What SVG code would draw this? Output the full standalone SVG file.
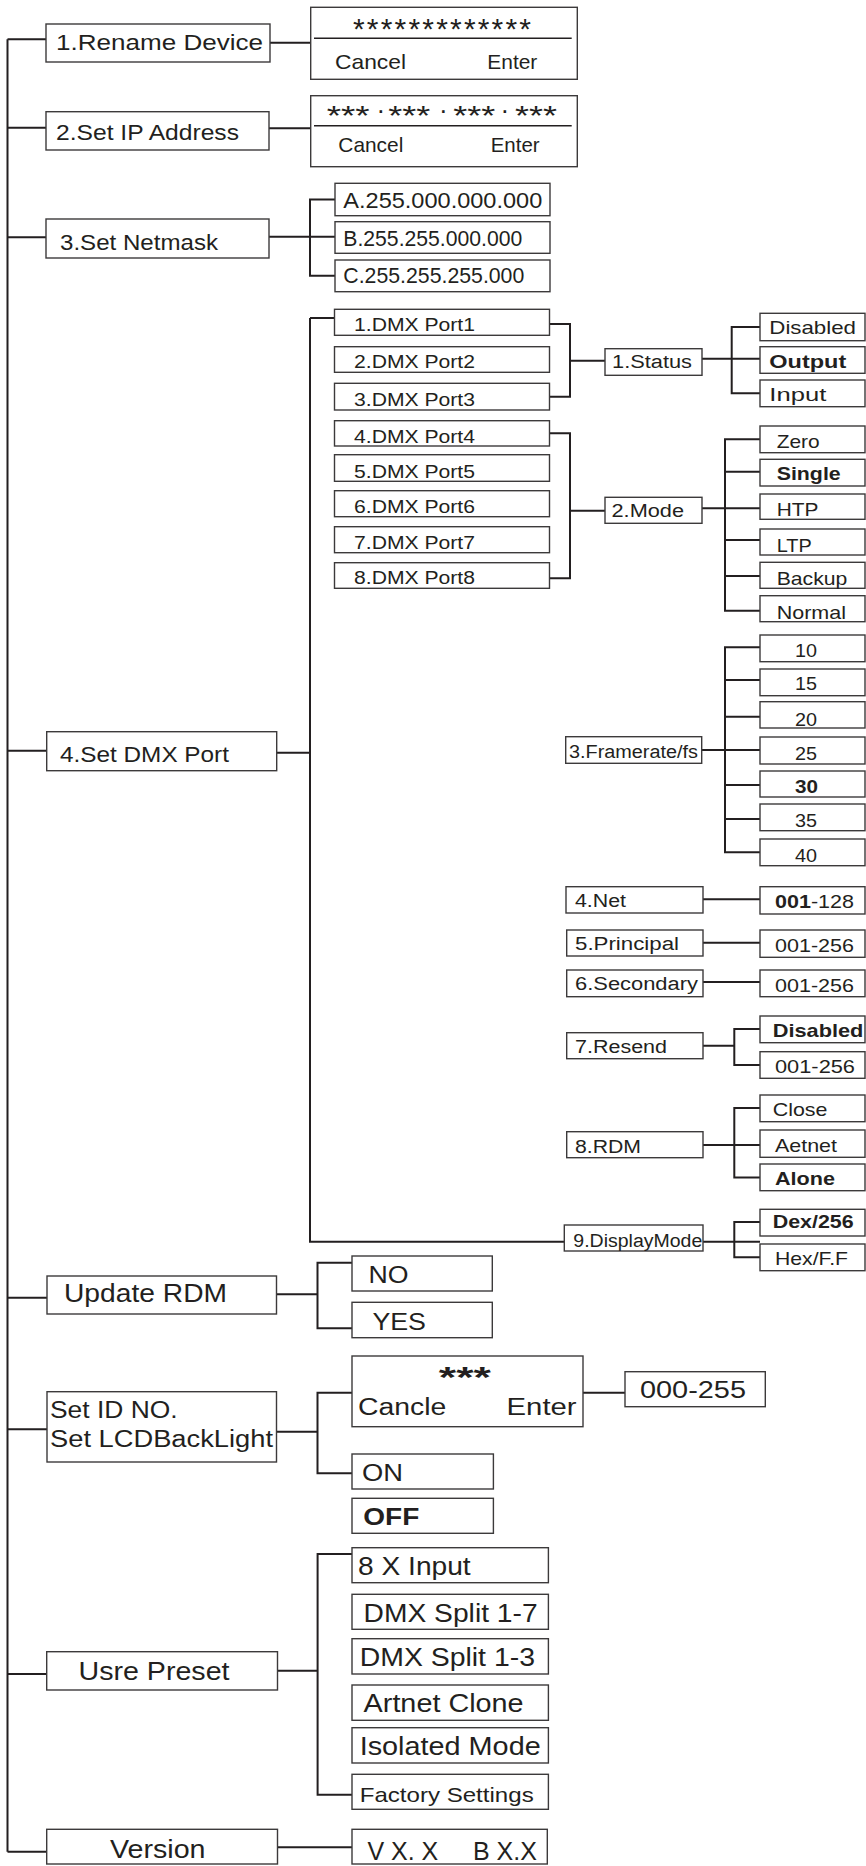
<svg xmlns="http://www.w3.org/2000/svg" width="866" height="1866" viewBox="0 0 866 1866">
<style>
.bx{fill:#fff;stroke:#3c3a3b;stroke-width:1.4}
.ln{fill:none;stroke:#231f20;stroke-width:2}
.thin{fill:none;stroke:#231f20;stroke-width:1.4}
text{font-family:"Liberation Sans",Arial,sans-serif;fill:#231f20}
.f22{font-size:22px}.f21{font-size:21px}.f18{font-size:18px}.f19{font-size:19px}
.f23{font-size:23px}.f24{font-size:24px}.f25{font-size:25px}.st{font-size:28px}.st2{font-size:30px}.dot{font-size:26px}
.b{font-weight:bold}
</style>
<rect width="866" height="1866" fill="#fff"/>
<g id="connectors">
<path class="ln" d="M7.5 39.3V1851.7M7.5 39.3H46M7.5 127.7H46M7.5 237.3H46M7.5 750.7H46.7M7.5 1297.7H47M7.5 1429.3H47M7.5 1674H46.7M7.5 1851.7H46.7"/>
<path class="ln" d="M270 42.7H310.7M269 128.3H310.7M269 236.7H335"/>
<path class="ln" d="M335 199.5H310V275.8H335"/>
<path class="ln" d="M276.7 752.7H310M310 318V1241.7H564.3M310 318H334.5"/>
<path class="ln" d="M549.4 324H570V396.7H549.4M570 360.7H605"/>
<path class="ln" d="M702 358.7H760M760 327H731.7V393.3H760"/>
<path class="ln" d="M549.4 433.3H570V578.3H549.4M570 510.7H605"/>
<path class="ln" d="M702 508.3H760M760 439.3H725V610.7H760M725 471.7H760M725 540H760M725 576H760"/>
<path class="ln" d="M701.7 750H760M760 647.3H725V852.3H760M725 680H760M725 716.7H760M725 785H760M725 819H760"/>
<path class="ln" d="M703 899.3H760M703 942.7H760M703 982H760"/>
<path class="ln" d="M703 1045.7H734.3M760 1029H734.3V1065H760"/>
<path class="ln" d="M703 1145H760M760 1108H734.3V1177.5H760"/>
<path class="ln" d="M703 1241.7H760M760 1222H734.3V1257.3H760"/>
<path class="ln" d="M276.5 1294.3H317.5M352 1262.7H317.5V1328.3H352"/>
<path class="ln" d="M276.5 1431.7H317.5M352 1392.7H317.5V1473.3H352M583 1392.7H625"/>
<path class="ln" d="M277.5 1670.7H317.6M352 1554H317.6V1794.7H352"/>
<path class="ln" d="M277.5 1847.3H352"/>
</g>
<g id="n-rename">
<rect class="bx" x="46" y="24" width="224" height="38"/>
<text class="f22" x="56" y="50" textLength="207" lengthAdjust="spacingAndGlyphs">1.Rename Device</text>
</g>
<g id="n-rename-input">
<rect class="bx" x="310.7" y="7.3" width="266.6" height="72"/>
<path class="thin" d="M314 38.3H571.7"/>
<text class="st2" x="353" y="39" textLength="178">*************</text>
<text class="f21" x="335" y="69" textLength="71" lengthAdjust="spacingAndGlyphs">Cancel</text>
<text class="f21" x="487.3" y="69" textLength="50" lengthAdjust="spacingAndGlyphs">Enter</text>
</g>
<g id="n-ip">
<rect class="bx" x="46" y="111.7" width="223" height="38.3"/>
<text class="f22" x="56" y="140" textLength="183" lengthAdjust="spacingAndGlyphs">2.Set IP Address</text>
</g>
<g id="n-ip-input">
<rect class="bx" x="310.7" y="95.7" width="266.6" height="71"/>
<path class="thin" d="M314 125.7H571.7"/>
<text class="st" x="326.7" y="125" textLength="43" lengthAdjust="spacingAndGlyphs">***</text>
<text class="dot" x="376.5" y="119">·</text>
<text class="st" x="388.3" y="125" textLength="42" lengthAdjust="spacingAndGlyphs">***</text>
<text class="dot" x="439" y="119">·</text>
<text class="st" x="453.3" y="125" textLength="42" lengthAdjust="spacingAndGlyphs">***</text>
<text class="dot" x="500.5" y="119">·</text>
<text class="st" x="515" y="125" textLength="42" lengthAdjust="spacingAndGlyphs">***</text>
<text class="f21" x="338.3" y="152.3" textLength="65" lengthAdjust="spacingAndGlyphs">Cancel</text>
<text class="f21" x="490.7" y="152.3" textLength="49" lengthAdjust="spacingAndGlyphs">Enter</text>
</g>
<g id="n-netmask">
<rect class="bx" x="46" y="219" width="223" height="39"/>
<text class="f22" x="60" y="250" textLength="158" lengthAdjust="spacingAndGlyphs">3.Set Netmask</text>
</g>
<g id="n-mask-a"><rect class="bx" x="335" y="183.3" width="215" height="32.4"/><text class="f22" x="343.3" y="208.3" textLength="199" lengthAdjust="spacingAndGlyphs">A.255.000.000.000</text></g>
<g id="n-mask-b"><rect class="bx" x="335" y="221.7" width="215" height="31.6"/><text class="f22" x="343.3" y="246" textLength="179" lengthAdjust="spacingAndGlyphs">B.255.255.000.000</text></g>
<g id="n-mask-c"><rect class="bx" x="335" y="260" width="215" height="31.7"/><text class="f22" x="343.3" y="282.7" textLength="181" lengthAdjust="spacingAndGlyphs">C.255.255.255.000</text></g>
<g id="n-dmx">
<rect class="bx" x="46.7" y="731.7" width="230" height="39"/>
<text class="f22" x="60" y="761.7" textLength="169" lengthAdjust="spacingAndGlyphs">4.Set DMX Port</text>
</g>
<g id="n-port1"><rect class="bx" x="334.5" y="309.3" width="215" height="26"/><text class="f18" x="354" y="331" textLength="121" lengthAdjust="spacingAndGlyphs">1.DMX Port1</text></g>
<g id="n-port2"><rect class="bx" x="334.5" y="346.7" width="215" height="25.6"/><text class="f18" x="354" y="368.3" textLength="121" lengthAdjust="spacingAndGlyphs">2.DMX Port2</text></g>
<g id="n-port3"><rect class="bx" x="334.5" y="383.3" width="215" height="26.7"/><text class="f18" x="354" y="406" textLength="121" lengthAdjust="spacingAndGlyphs">3.DMX Port3</text></g>
<g id="n-port4"><rect class="bx" x="334.5" y="420.7" width="215" height="25.3"/><text class="f18" x="354" y="442.7" textLength="121" lengthAdjust="spacingAndGlyphs">4.DMX Port4</text></g>
<g id="n-port5"><rect class="bx" x="334.5" y="454.7" width="215" height="26.6"/><text class="f18" x="354" y="478.3" textLength="121" lengthAdjust="spacingAndGlyphs">5.DMX Port5</text></g>
<g id="n-port6"><rect class="bx" x="334.5" y="490.7" width="215" height="26"/><text class="f18" x="354" y="513.3" textLength="121" lengthAdjust="spacingAndGlyphs">6.DMX Port6</text></g>
<g id="n-port7"><rect class="bx" x="334.5" y="526.7" width="215" height="26"/><text class="f18" x="354" y="549.3" textLength="121" lengthAdjust="spacingAndGlyphs">7.DMX Port7</text></g>
<g id="n-port8"><rect class="bx" x="334.5" y="562.7" width="215" height="25.6"/><text class="f18" x="354" y="584" textLength="121" lengthAdjust="spacingAndGlyphs">8.DMX Port8</text></g>
<g id="n-status"><rect class="bx" x="605" y="348.7" width="97" height="26.6"/><text class="f18" x="612" y="368" textLength="80" lengthAdjust="spacingAndGlyphs">1.Status</text></g>
<g id="n-mode"><rect class="bx" x="605" y="497.3" width="97" height="26"/><text class="f18" x="611.5" y="516.7" textLength="72.5" lengthAdjust="spacingAndGlyphs">2.Mode</text></g>
<g id="n-st-disabled"><rect class="bx" x="760" y="313.3" width="105" height="27.4"/><text class="f19" x="769.3" y="334.3" textLength="86.7" lengthAdjust="spacingAndGlyphs">Disabled</text></g>
<g id="n-st-output"><rect class="bx" x="760" y="346.7" width="105" height="26.6"/><text class="f19 b" x="769.3" y="367.7" textLength="77" lengthAdjust="spacingAndGlyphs">Output</text></g>
<g id="n-st-input"><rect class="bx" x="760" y="380" width="105" height="26.7"/><text class="f19" x="769.3" y="400.7" textLength="57" lengthAdjust="spacingAndGlyphs">Input</text></g>
<g id="n-md-zero"><rect class="bx" x="760" y="426" width="105" height="26.7"/><text class="f19" x="776.7" y="448.3" textLength="43" lengthAdjust="spacingAndGlyphs">Zero</text></g>
<g id="n-md-single"><rect class="bx" x="760" y="459.3" width="105" height="26.7"/><text class="f19 b" x="776.7" y="480" textLength="64" lengthAdjust="spacingAndGlyphs">Single</text></g>
<g id="n-md-htp"><rect class="bx" x="760" y="494" width="105" height="25.3"/><text class="f19" x="776.7" y="516" textLength="41.7" lengthAdjust="spacingAndGlyphs">HTP</text></g>
<g id="n-md-ltp"><rect class="bx" x="760" y="529" width="105" height="26"/><text class="f19" x="776.7" y="551.7" textLength="35" lengthAdjust="spacingAndGlyphs">LTP</text></g>
<g id="n-md-backup"><rect class="bx" x="760" y="562.3" width="105" height="26"/><text class="f19" x="776.7" y="585" textLength="70.7" lengthAdjust="spacingAndGlyphs">Backup</text></g>
<g id="n-md-normal"><rect class="bx" x="760" y="595.7" width="105" height="26"/><text class="f19" x="776.7" y="619.3" textLength="69.3" lengthAdjust="spacingAndGlyphs">Normal</text></g>
<g id="n-framerate"><rect class="bx" x="565.7" y="736.7" width="136" height="26.6"/><text class="f18" x="569" y="758" textLength="129" lengthAdjust="spacingAndGlyphs">3.Framerate/fs</text></g>
<g id="n-fr-10"><rect class="bx" x="760" y="635" width="105" height="26.7"/><text class="f19" x="795" y="657.3" textLength="22" lengthAdjust="spacingAndGlyphs">10</text></g>
<g id="n-fr-15"><rect class="bx" x="760" y="669" width="105" height="26.7"/><text class="f19" x="795" y="690" textLength="22" lengthAdjust="spacingAndGlyphs">15</text></g>
<g id="n-fr-20"><rect class="bx" x="760" y="701.7" width="105" height="26.3"/><text class="f19" x="795" y="726" textLength="22" lengthAdjust="spacingAndGlyphs">20</text></g>
<g id="n-fr-25"><rect class="bx" x="760" y="737" width="105" height="27"/><text class="f19" x="795" y="760" textLength="22" lengthAdjust="spacingAndGlyphs">25</text></g>
<g id="n-fr-30"><rect class="bx" x="760" y="771" width="105" height="26"/><text class="f19 b" x="795" y="792.7" textLength="23" lengthAdjust="spacingAndGlyphs">30</text></g>
<g id="n-fr-35"><rect class="bx" x="760" y="804" width="105" height="26.7"/><text class="f19" x="795" y="827.3" textLength="22" lengthAdjust="spacingAndGlyphs">35</text></g>
<g id="n-fr-40"><rect class="bx" x="760" y="839" width="105" height="26.7"/><text class="f19" x="795" y="861.7" textLength="22" lengthAdjust="spacingAndGlyphs">40</text></g>
<g id="n-net"><rect class="bx" x="566" y="886.7" width="137" height="26.3"/><text class="f18" x="575" y="907" textLength="51" lengthAdjust="spacingAndGlyphs">4.Net</text></g>
<g id="n-net-v"><rect class="bx" x="760" y="886.7" width="105" height="27.3"/><text class="f19" x="775" y="908.3" textLength="79" lengthAdjust="spacingAndGlyphs"><tspan class="b">001</tspan>-128</text></g>
<g id="n-principal"><rect class="bx" x="566.7" y="930" width="136.3" height="26"/><text class="f18" x="575" y="950" textLength="104" lengthAdjust="spacingAndGlyphs">5.Principal</text></g>
<g id="n-principal-v"><rect class="bx" x="760" y="930" width="105" height="27.3"/><text class="f19" x="775" y="951.7" textLength="79" lengthAdjust="spacingAndGlyphs">001-256</text></g>
<g id="n-secondary"><rect class="bx" x="566.7" y="970" width="136.3" height="26.7"/><text class="f18" x="575" y="990" textLength="123" lengthAdjust="spacingAndGlyphs">6.Secondary</text></g>
<g id="n-secondary-v"><rect class="bx" x="760" y="970" width="105" height="26.7"/><text class="f19" x="775" y="991.7" textLength="79" lengthAdjust="spacingAndGlyphs">001-256</text></g>
<g id="n-resend"><rect class="bx" x="566.7" y="1032.7" width="136.3" height="26"/><text class="f18" x="575" y="1053.3" textLength="92" lengthAdjust="spacingAndGlyphs">7.Resend</text></g>
<g id="n-rs-disabled"><rect class="bx" x="760" y="1016" width="105" height="26.7"/><text class="f19 b" x="772.7" y="1037.3" textLength="90.7" lengthAdjust="spacingAndGlyphs">Disabled</text></g>
<g id="n-rs-range"><rect class="bx" x="760" y="1051.7" width="105" height="26.6"/><text class="f19" x="775" y="1073.3" textLength="80" lengthAdjust="spacingAndGlyphs">001-256</text></g>
<g id="n-rdm"><rect class="bx" x="566.7" y="1131.7" width="136.3" height="26"/><text class="f18" x="575" y="1153.3" textLength="66" lengthAdjust="spacingAndGlyphs">8.RDM</text></g>
<g id="n-rdm-close"><rect class="bx" x="760" y="1095" width="105" height="26.7"/><text class="f19" x="772.7" y="1115.7" textLength="54.7" lengthAdjust="spacingAndGlyphs">Close</text></g>
<g id="n-rdm-aetnet"><rect class="bx" x="760" y="1130" width="105" height="27.3"/><text class="f19" x="775" y="1151.7" textLength="62" lengthAdjust="spacingAndGlyphs">Aetnet</text></g>
<g id="n-rdm-alone"><rect class="bx" x="760" y="1164" width="105" height="26.7"/><text class="f19 b" x="775" y="1185" textLength="60" lengthAdjust="spacingAndGlyphs">Alone</text></g>
<g id="n-display"><rect class="bx" x="564.3" y="1225" width="138.7" height="26"/><text class="f18" x="573.3" y="1246.7" textLength="129" lengthAdjust="spacingAndGlyphs">9.DisplayMode</text></g>
<g id="n-dex"><rect class="bx" x="760" y="1209.3" width="105" height="26.7"/><text class="f19 b" x="772.7" y="1228.3" textLength="81" lengthAdjust="spacingAndGlyphs">Dex/256</text></g>
<g id="n-hex"><rect class="bx" x="760" y="1244" width="105" height="26.7"/><text class="f19" x="775" y="1265" textLength="73" lengthAdjust="spacingAndGlyphs">Hex/F.F</text></g>
<g id="n-update"><rect class="bx" x="47" y="1276" width="229.5" height="38"/><text class="f25" x="64" y="1301.7" textLength="163" lengthAdjust="spacingAndGlyphs">Update RDM</text></g>
<g id="n-no"><rect class="bx" x="352" y="1256" width="140.3" height="35"/><text class="f24" x="368.4" y="1283.3" textLength="40" lengthAdjust="spacingAndGlyphs">NO</text></g>
<g id="n-yes"><rect class="bx" x="352" y="1302.3" width="140.3" height="35.4"/><text class="f24" x="372.4" y="1330" textLength="53.6" lengthAdjust="spacingAndGlyphs">YES</text></g>
<g id="n-setid">
<rect class="bx" x="47" y="1391.7" width="229.5" height="70.3"/>
<text class="f23" x="50" y="1418.3" textLength="127.6" lengthAdjust="spacingAndGlyphs">Set ID NO.</text>
<text class="f23" x="50" y="1447.3" textLength="223" lengthAdjust="spacingAndGlyphs">Set LCDBackLight</text>
</g>
<g id="n-id-input">
<rect class="bx" x="352" y="1356" width="231" height="70.7"/>
<text class="st2 b" x="438.8" y="1386.5" textLength="52" lengthAdjust="spacingAndGlyphs">***</text>
<text class="f23" x="358" y="1415" textLength="88.4" lengthAdjust="spacingAndGlyphs">Cancle</text>
<text class="f23" x="506.6" y="1415" textLength="70" lengthAdjust="spacingAndGlyphs">Enter</text>
</g>
<g id="n-id-range"><rect class="bx" x="625" y="1371.7" width="140.3" height="35"/><text class="f23" x="640" y="1398.3" textLength="106" lengthAdjust="spacingAndGlyphs">000-255</text></g>
<g id="n-on"><rect class="bx" x="352" y="1454" width="141.4" height="35"/><text class="f24" x="362" y="1481" textLength="41" lengthAdjust="spacingAndGlyphs">ON</text></g>
<g id="n-off"><rect class="bx" x="352" y="1498.3" width="141.4" height="35"/><text class="f24 b" x="363.3" y="1525" textLength="56" lengthAdjust="spacingAndGlyphs">OFF</text></g>
<g id="n-preset"><rect class="bx" x="46.7" y="1651.7" width="230.8" height="38.3"/><text class="f25" x="78.5" y="1680" textLength="151" lengthAdjust="spacingAndGlyphs">Usre Preset</text></g>
<g id="n-p1"><rect class="bx" x="352" y="1547.7" width="196.4" height="35"/><text class="f25" x="358" y="1575" textLength="112.7" lengthAdjust="spacingAndGlyphs">8 X Input</text></g>
<g id="n-p2"><rect class="bx" x="352" y="1594.3" width="196.4" height="35"/><text class="f25" x="363.6" y="1621.7" textLength="174" lengthAdjust="spacingAndGlyphs">DMX Split 1-7</text></g>
<g id="n-p3"><rect class="bx" x="352" y="1638.7" width="196.4" height="35.3"/><text class="f25" x="359.7" y="1666" textLength="175.3" lengthAdjust="spacingAndGlyphs">DMX Split 1-3</text></g>
<g id="n-p4"><rect class="bx" x="352" y="1685" width="196.4" height="35.3"/><text class="f25" x="363.6" y="1712.3" textLength="160" lengthAdjust="spacingAndGlyphs">Artnet Clone</text></g>
<g id="n-p5"><rect class="bx" x="352" y="1727.7" width="196.4" height="35.3"/><text class="f25" x="359.7" y="1755" textLength="181" lengthAdjust="spacingAndGlyphs">Isolated Mode</text></g>
<g id="n-p6"><rect class="bx" x="352" y="1774.3" width="196.4" height="35"/><text class="f21" x="359.7" y="1801.7" textLength="174" lengthAdjust="spacingAndGlyphs">Factory Settings</text></g>
<g id="n-version"><rect class="bx" x="46.7" y="1829.3" width="230.8" height="34.7"/><text class="f25" x="110" y="1858.3" textLength="95.5" lengthAdjust="spacingAndGlyphs">Version</text></g>
<g id="n-version-v"><rect class="bx" x="352" y="1829.3" width="195.3" height="34.7"/><text class="f25" y="1860"><tspan x="367.4">V X. X</tspan><tspan x="466"> B X.X</tspan></text></g>
</svg>
